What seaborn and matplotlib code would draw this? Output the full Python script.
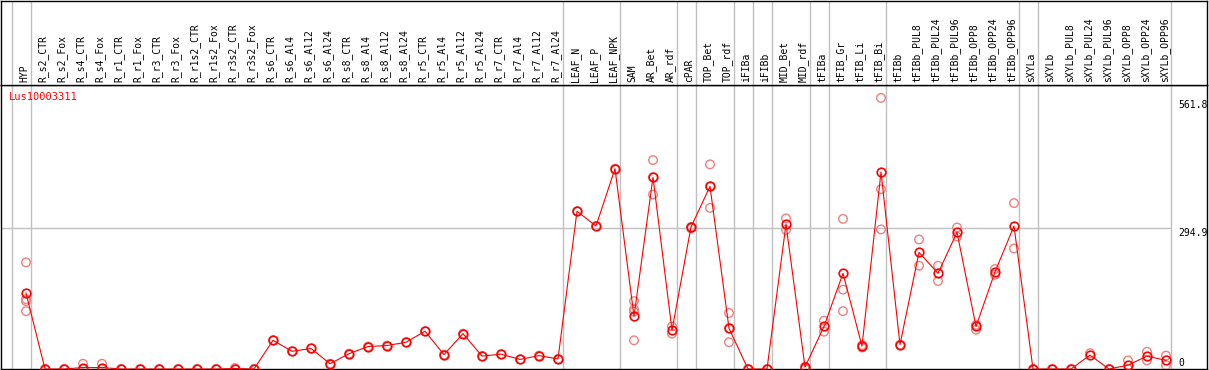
import os
os.environ['MPLCONFIGDIR'] = os.getcwd()

import matplotlib
matplotlib.use('Agg')

import matplotlib.pyplot as plt
import seaborn as sns
import pandas as pd
import numpy as np

# sample labels (one column each)
samples = ['HYP',
           'R_s2_CTR', 'R_s2_Fox', 'R_s4_CTR', 'R_s4_Fox', 'R_r1_CTR', 'R_r1_Fox',
           'R_r3_CTR', 'R_r3_Fox', 'R_r1s2_CTR', 'R_r1s2_Fox', 'R_r3s2_CTR', 'R_r3s2_Fox',
           'R_s6_CTR', 'R_s6_Al4', 'R_s6_Al12', 'R_s6_Al24',
           'R_s8_CTR', 'R_s8_Al4', 'R_s8_Al12', 'R_s8_Al24',
           'R_r5_CTR', 'R_r5_Al4', 'R_r5_Al12', 'R_r5_Al24',
           'R_r7_CTR', 'R_r7_Al4', 'R_r7_Al12', 'R_r7_Al24',
           'LEAF_N', 'LEAF_P', 'LEAF_NPK', 'SAM', 'AR_Bet', 'AR_rdf', 'cPAR',
           'TOP_Bet', 'TOP_rdf', 'iFIBa', 'iFIBb', 'MID_Bet', 'MID_rdf',
           'tFIBa', 'tFIB_Gr', 'tFIB_Li', 'tFIB_Bi', 'tFIBb',
           'tFIBb_PUL8', 'tFIBb_PUL24', 'tFIBb_PUL96', 'tFIBb_OPP8', 'tFIBb_OPP24', 'tFIBb_OPP96',
           'sXYLa', 'sXYLb',
           'sXYLb_PUL8', 'sXYLb_PUL24', 'sXYLb_PUL96', 'sXYLb_OPP8', 'sXYLb_OPP24', 'sXYLb_OPP96']

# mean expression per sample
means = [159, 0, 0, 3, 3, 0, 0, 0, 0, 0, 0, 1, 0,
         60, 37, 43, 11, 32, 47, 49, 56, 79, 30, 74, 27, 31, 20, 28, 21,
         330, 299, 419, 110, 401, 81, 297, 382, 85, 0, 0, 303, 4,
         89, 200, 48, 412, 51, 244, 200, 286, 89, 203, 299,
         0, 0, 0, 29, 0, 8, 27, 18]

# replicate values (only where visible)
replicates = [[223, 146, 142, 121], [0], [0], [11, 0], [11, 0], [0], [0], [0], [0], [0], [0], [2], [0],
              [60], [37], [43], [11], [32], [47], [49], [56], [79], [30], [74], [27], [31], [20], [28], [21],
              [330], [299], [419], [142, 125, 120, 60], [437, 401, 365], [89, 74], [297, 294],
              [428, 382, 337], [117, 85, 56], [0], [0], [315, 291], [5, 0],
              [101, 78], [314, 166, 121], [50, 45], [567, 376, 292], [51],
              [271, 216], [216, 184], [296, 277], [92, 82], [209, 197], [347, 252],
              [0], [0], [0], [33], [0], [18, 0], [36, 18], [28, 8]]

# group separators (after these columns)
breaks = [-1, 0, 28, 31, 34, 35, 37, 38, 39, 41, 42, 45, 52, 53, 60]

title = 'Lus10003311'
y_top_tick = 561.8
y_mid_tick = 294.9

df_mean = pd.DataFrame({'pos': np.arange(len(samples)), 'value': means})
rows = []
for i, reps in enumerate(replicates):
    for v in reps:
        rows.append((i, v))
df_rep = pd.DataFrame(rows, columns=['pos', 'value'])

plt.rcParams['font.family'] = ['DejaVu Sans Mono']

W, H = 1209, 370
fig = plt.figure(figsize=(W / 100, H / 100), dpi=100)

xl = ((1 - 26) / 19, (1207 - 26) / 19)
ax = fig.add_axes([1 / W, 1 / H, 1206 / W, 284 / H])
axl = fig.add_axes([1 / W, 285 / H, 1206 / W, 84 / H], sharex=ax)

red = '#ff0000'
pink = '#f08080'
grey = '#c0c0c0'

sns.scatterplot(data=df_rep, x='pos', y='value', ax=ax, marker='o', s=38,
                color=pink, facecolor='none', edgecolor=pink, linewidth=1.0,
                zorder=3, legend=False)
sns.lineplot(data=df_mean, x='pos', y='value', ax=ax, color=red, linewidth=0.8,
             marker='o', markersize=6.2, markerfacecolor='none',
             markeredgecolor=red, markeredgewidth=1.2, estimator=None, zorder=4)

off = 4.5 / 19
for b in breaks:
    ax.axvline(b + off, color=grey, linewidth=1, zorder=1)
    axl.axvline(b + off, color=grey, linewidth=1, zorder=1)
ax.hlines(y_mid_tick, xl[0], 60 + off, color=grey, linewidth=1, zorder=1)

ax.set_xlim(*xl)
ax.set_ylim(0, (369 - 85) / (141 / y_mid_tick))
ax.set_xticks([])
ax.set_yticks([])
ax.set_xlabel('')
ax.set_ylabel('')
for sp in ax.spines.values():
    sp.set_color('black')
    sp.set_linewidth(1.0)

axl.set_ylim(0, 1)
axl.set_xticks([])
axl.set_yticks([])
for sp in axl.spines.values():
    sp.set_color('black')
    sp.set_linewidth(1.0)
for i, name in enumerate(samples):
    axl.text(i - 0.1, 0.03, name, rotation=90, ha='center', va='bottom',
             fontsize=7, color='black')

xr = (1178 - 26) / 19
ax.text(xr, y_top_tick, f'{y_top_tick}', fontsize=7, ha='left', va='top')
ax.text(xr, y_mid_tick, f'{y_mid_tick}', fontsize=7, ha='left', va='top')
ax.text(xr, 3, '0', fontsize=7, ha='left', va='bottom')

fig.text(9 / W, 1 - 97 / H, title, color=red, fontsize=7.5, ha='left', va='center')

fig.savefig('out.png', dpi=100)
